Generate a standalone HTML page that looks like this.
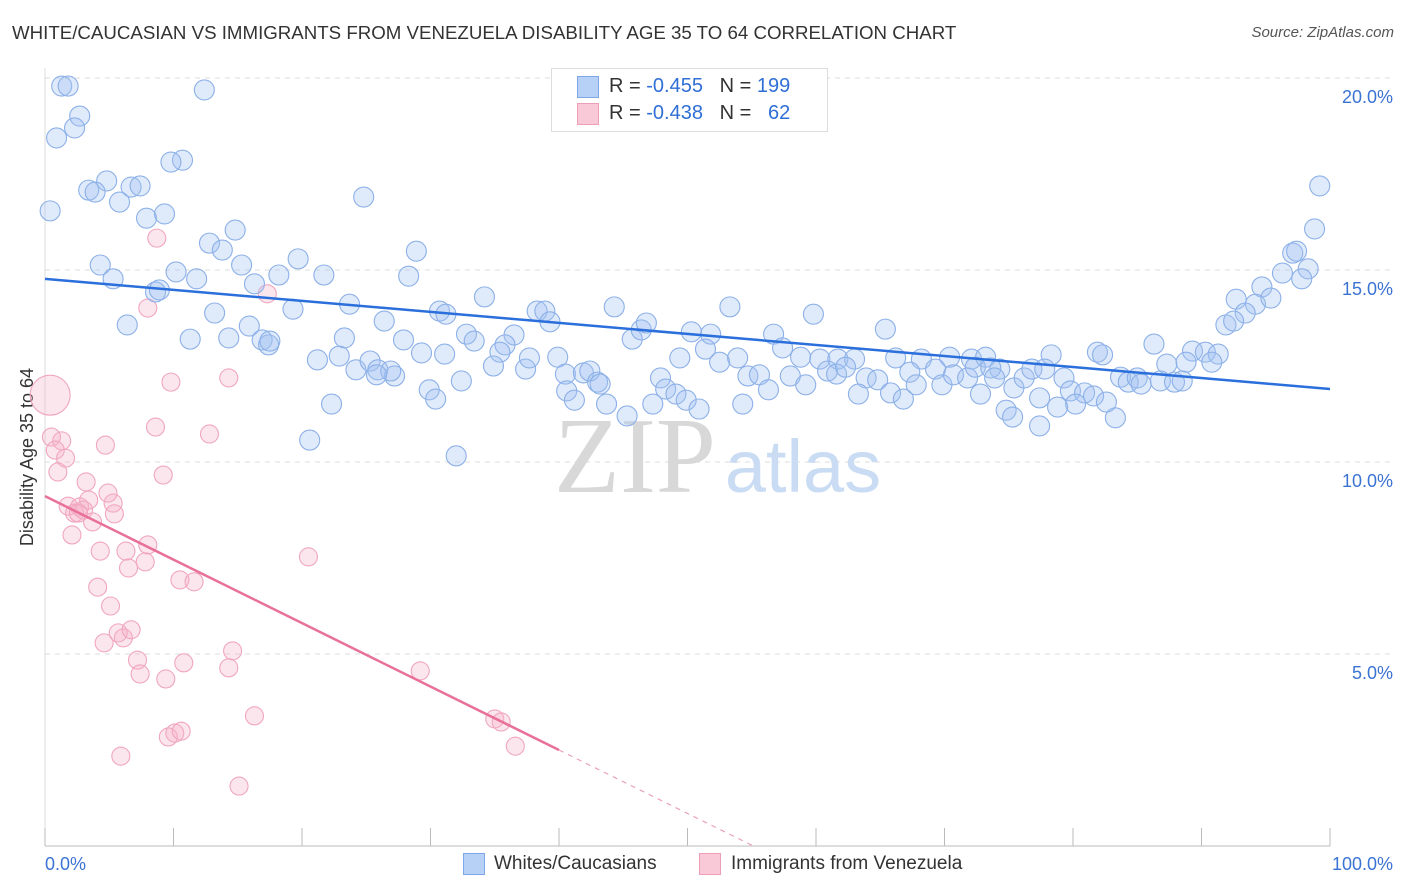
<!DOCTYPE html>
<html><head><meta charset="utf-8"><style>
body{margin:0;background:#fff;font-family:"Liberation Sans",sans-serif;}
#wrap{position:relative;width:1406px;height:892px;overflow:hidden;}
.t{position:absolute;white-space:nowrap;}
</style></head><body>
<div id="wrap">
<div class="t" style="left:12px;top:22px;font-size:18.7px;color:#333;">WHITE/CAUCASIAN VS IMMIGRANTS FROM VENEZUELA DISABILITY AGE 35 TO 64 CORRELATION CHART</div>
<div class="t" style="right:12px;top:24px;font-size:15px;color:#555;font-style:italic;">Source: ZipAtlas.com</div>
<svg id="svg" width="1406" height="892" style="position:absolute;left:0;top:0"></svg>
</div>
<script>
const yTicks=[5,10,15,20];
const xTickLabels=["0.0%","100.0%"];
const blueX=[1.3,1.8,12.4,2.7,2.3,0.9,10.7,9.8,0.4,4.8,3.4,3.9,6.7,7.4,5.8,7.9,9.3,24.8,14.8,12.8,13.8,4.3,10.2,5.3,11.8,15.3,19.7,18.2,21.7,28.9,28.3,8.6,8.9,16.3,99.2,98.8,97.1,96.3,97.4,98.3,97.8,94.7,92.7,94.2,95.4,93.4,91.9,92.5,34.2,19.3,23.7,13.2,6.4,11.3,14.3,15.9,16.9,17.4,17.5,26.4,23.3,27.9,29.3,30.7,31.2,32.8,31.1,33.4,36.5,35.8,35.4,38.3,38.9,39.3,44.3,45.7,46.4,46.8,53.3,50.3,51.8,51.4,56.7,59.8,65.4,57.4,58.8,60.3,61.7,63.0,66.2,68.2,70.4,72.1,73.2,74.3,78.3,81.9,82.3,86.3,87.3,89.3,90.3,91.3,88.8,90.8,21.2,22.9,24.2,25.3,25.9,27.2,26.9,25.8,29.9,30.4,32.4,34.9,37.4,37.7,39.9,40.5,41.9,42.4,43.0,43.2,40.6,41.2,43.7,45.3,47.3,47.9,48.3,49.1,49.9,50.9,49.4,52.5,53.9,54.7,55.6,56.3,54.3,58.0,59.2,60.9,61.6,62.3,63.9,63.3,64.8,65.8,66.8,67.3,67.8,69.3,69.8,70.7,71.8,72.4,72.8,73.6,73.9,75.4,76.2,76.8,77.8,77.4,79.3,79.8,80.9,81.6,80.2,78.8,74.8,75.3,77.4,83.3,82.6,83.7,84.3,85.0,85.3,86.8,87.9,88.5,22.3,20.6,32.0];
const blueY=[19.79,19.79,19.69,19.01,18.70,18.44,17.86,17.81,16.54,17.32,17.08,17.03,17.16,17.19,16.77,16.35,16.46,16.90,16.04,15.70,15.52,15.13,14.95,14.77,14.77,15.13,15.29,14.87,14.87,15.49,14.84,14.43,14.48,14.64,17.19,16.07,15.44,14.92,15.49,15.03,14.77,14.56,14.24,14.11,14.27,13.88,13.57,13.67,14.30,13.98,14.11,13.88,13.57,13.20,13.23,13.54,13.18,13.05,13.15,13.67,13.23,13.18,12.84,13.93,13.85,13.33,12.81,13.15,13.31,13.05,12.86,13.93,13.93,13.65,14.04,13.20,13.44,13.62,14.04,13.39,13.33,12.94,13.33,13.85,13.46,12.97,12.73,12.68,12.68,12.68,12.71,12.68,12.73,12.68,12.73,12.42,12.79,12.86,12.79,13.07,12.55,12.89,12.86,12.81,12.60,12.60,12.66,12.76,12.40,12.63,12.40,12.24,12.37,12.27,11.88,11.64,12.11,12.50,12.42,12.71,12.73,12.29,12.32,12.37,12.08,12.03,11.85,11.61,11.51,11.20,11.51,12.19,11.90,11.77,11.61,11.38,12.71,12.60,12.71,12.24,12.27,11.88,11.51,12.24,12.01,12.37,12.29,12.47,12.19,11.77,12.14,11.80,11.64,12.34,12.01,12.42,12.01,12.27,12.19,12.47,11.77,12.45,12.19,11.93,12.19,12.42,12.42,11.67,12.19,11.85,11.80,11.72,11.51,11.43,11.35,11.17,10.94,11.15,11.56,12.21,12.08,12.19,12.03,12.11,12.08,12.11,11.51,10.57,10.16];
const pinkX=[0.4,0.5,1.3,0.8,1.6,1.0,4.7,9.2,3.2,1.8,2.7,2.3,3.4,3.0,2.6,3.7,5.3,5.4,4.9,2.1,4.3,6.3,6.5,8.0,7.8,4.1,5.1,10.5,11.6,20.5,4.6,5.7,6.1,6.7,7.2,7.4,10.8,14.6,14.3,9.4,9.6,10.1,10.6,16.3,5.9,15.1,29.2,35.0,35.5,36.6,8.7,8.0,9.8,14.3,17.3,8.6,12.8];
const pinkY=[11.74,10.65,10.55,10.31,10.10,9.74,10.44,9.66,9.48,8.85,8.83,8.67,9.01,8.75,8.67,8.44,8.93,8.65,9.19,8.10,7.68,7.68,7.24,7.84,7.40,6.74,6.25,6.93,6.88,7.53,5.29,5.55,5.42,5.63,4.84,4.48,4.77,5.08,4.64,4.35,2.84,2.94,2.99,3.39,2.34,1.56,4.56,3.31,3.23,2.60,15.83,14.01,12.08,12.19,14.38,10.91,10.73];
const blueFit=[14.77,11.90];
const pinkFit=[9.11,2.50];
const pinkFitEndX=40, pinkDashEndX=55;

const X0=45,X1=1330,Y0=846,PPU=38.4;
const sx=v=>X0+(X1-X0)*v/100;
const sy=v=>Y0-v*PPU;
const svg=document.getElementById('svg');
const NS='http://www.w3.org/2000/svg';
function mk(tag,at){const e=document.createElementNS(NS,tag);for(const k in at)e.setAttribute(k,at[k]);svg.appendChild(e);return e;}
yTicks.forEach(t=>{
  const l=mk('line',{x1:X0,x2:1392,y1:sy(t),y2:sy(t),stroke:'#dcdcdc','stroke-dasharray':'5,5'});
  
  
  const tx=mk('text',{x:1393,y:sy(t)+25,'text-anchor':'end','font-size':18,fill:'#3b73d4','font-family':'Liberation Sans, sans-serif'});
  tx.textContent=t.toFixed(1)+'%';
  
  
});
const ax=mk('line',{x1:X0,x2:X1,y1:Y0,y2:Y0,stroke:'#bbb'});


const ayl=mk('line',{x1:X0,x2:X0,y1:68,y2:Y0,stroke:'#ddd'});


for(let i=0;i<=10;i++){
  const tk=mk('line',{x1:sx(i*10),x2:sx(i*10),y1:Y0-18,y2:Y0,stroke:'#bbb'});
  
  
}
[[0,'start',45],[100,'end',1393]].forEach((d,i)=>{
  const t=mk('text',{x:d[2],y:870,'text-anchor':d[1],'font-size':18,fill:'#3b73d4','font-family':'Liberation Sans, sans-serif'});
  t.textContent=xTickLabels[i];
  
  
});
const yt=mk('text',{x:33,y:457,'text-anchor':'middle','font-size':18,fill:'#333',transform:'rotate(-90 33 457)','font-family':'Liberation Sans, sans-serif'});
yt.textContent='Disability Age 35 to 64';


const w1=mk('text',{x:635,y:492,'text-anchor':'middle','font-size':108,fill:'#d8d8d8','font-family':'Liberation Serif, serif'});
w1.textContent='ZIP';


const w2=mk('text',{x:803,y:492,'text-anchor':'middle','font-size':74,fill:'#c9dcf3','font-family':'Liberation Sans, sans-serif'});
w2.textContent='atlas';


pinkX.forEach((v,i)=>{
  const c=mk('circle',{cx:sx(v),cy:sy(pinkY[i]),r:i==0?20:9,fill:'rgba(246,176,200,0.32)',stroke:'#f0a6bf','stroke-width':1.1});
  
  
});
blueX.forEach((v,i)=>{
  const c=mk('circle',{cx:sx(v),cy:sy(blueY[i]),r:10,fill:'rgba(160,192,240,0.34)',stroke:'#8cb0e8','stroke-width':1.1});
  
  
});
const bl=mk('line',{x1:sx(0),y1:sy(blueFit[0]),x2:sx(100),y2:sy(blueFit[1]),stroke:'#2a6fdb','stroke-width':2.5});


const slope=(pinkFit[1]-pinkFit[0])/pinkFitEndX;
const pl=mk('line',{x1:sx(0),y1:sy(pinkFit[0]),x2:sx(pinkFitEndX),y2:sy(pinkFit[1]),stroke:'#e8709a','stroke-width':2.5});


const pd=mk('line',{x1:sx(pinkFitEndX),y1:sy(pinkFit[1]),x2:sx(pinkDashEndX),y2:sy(pinkFit[0]+slope*pinkDashEndX),stroke:'#eca0ba','stroke-width':1.2,'stroke-dasharray':'5,5'});


</script>
<div class="t" style="left:551px;top:68px;width:275px;height:62px;border:1px solid #ddd;background:#fff;">
 <div class="t" style="left:25px;top:7px;width:20px;height:20px;background:#b7d0f5;border:1px solid #7fa6e6;"></div>
 <div class="t" style="left:57px;top:6px;font-size:20px;color:#333;">R = <span style="color:#2f6fd6">-0.455</span>&nbsp;&nbsp;&nbsp;N = <span style="color:#2f6fd6">199</span></div>
 <div class="t" style="left:25px;top:34px;width:20px;height:20px;background:#f9c9d8;border:1px solid #ee9fb8;"></div>
 <div class="t" style="left:57px;top:33px;font-size:20px;color:#333;">R = <span style="color:#2f6fd6">-0.438</span>&nbsp;&nbsp;&nbsp;N = &nbsp;&nbsp;<span style="color:#2f6fd6">62</span></div>
</div>
<div class="t" style="left:463px;top:853px;width:20px;height:20px;background:#b7d0f5;border:1px solid #7fa6e6;"></div>
<div class="t" style="left:494px;top:853px;font-size:19px;color:#333;">Whites/Caucasians</div>
<div class="t" style="left:699px;top:853px;width:20px;height:20px;background:#f9c9d8;border:1px solid #ee9fb8;"></div>
<div class="t" style="left:731px;top:853px;font-size:19px;color:#333;">Immigrants from Venezuela</div>
</body></html>
